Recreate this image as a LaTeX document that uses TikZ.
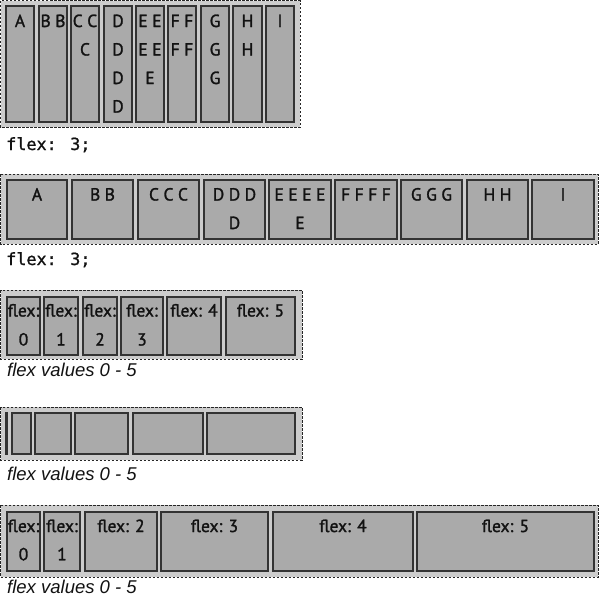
\documentclass[tikz,border=0pt]{standalone}
\usepackage{fontspec}
\setmainfont{PT Sans}
\newfontfamily\lblfont[FakeBold=1.5]{PT Sans}
\newfontfamily\capfont{Liberation Sans}
\newfontfamily\codefont[FakeBold=1]{DejaVu Sans Mono}
\newcommand\lsp{\kern4.5pt}
\tikzset{
  container/.style={draw=black!85, line width=0.9pt, dash pattern=on 2.5pt off 1.5pt, fill=gray!40},
  flexitem/.style={draw=black!80, line width=1.3pt, fill=gray!67},
  lbl/.style={inner sep=0pt, anchor=base, text=black!93, font=\lblfont\fontsize{17.5}{20}\selectfont},
  codetxt/.style={inner sep=0pt, anchor=base west, text=black!93, font=\codefont\fontsize{16.8}{20}\selectfont},
  captxt/.style={inner sep=0pt, anchor=base west, text=black!93, font=\capfont\itshape\fontsize{18.5}{22}\selectfont},
}
\newcommand\bx[4]{\draw[flexitem] (#1,#2) rectangle (#3,#4);}
% \lines{prefix}{xcenter}{first baseline}{step}{list}
\newcommand\lines[5]{%
  \foreach \t [count=\i] in {#5} {
    \node[lbl] (#1\i) at (#2, {#3+#4*(\i-1)}) {\t};
  }}
\begin{document}
\begin{tikzpicture}[x=1pt,y=-1pt]
\useasboundingbox (0,0) rectangle (600,598);
\fill[white] (0,0) rectangle (600,598);

% ---------- section 1 ----------
\draw[container] (0.5,0.5) rectangle (300,127);
\bx{6}{6}{34}{122}
\bx{39}{6}{67}{122}
\bx{71}{6}{99}{122}
\bx{104}{6}{132}{122}
\bx{136}{6}{164}{122}
\bx{168}{6}{196}{122}
\bx{201}{6}{229}{122}
\bx{233}{6}{262}{122}
\bx{266}{6}{294}{122}
\lines{a}{20}{27}{28.5}{A}
\lines{b}{53}{27}{28.5}{B\lsp B}
\lines{c}{85}{27}{28.5}{C\lsp C, C}
\lines{d}{118}{27}{28.5}{D, D, D, D}
\lines{e}{150}{27}{28.5}{E\lsp E, E\lsp E, E}
\lines{f}{182}{27}{28.5}{F\lsp F, F\lsp F}
\lines{g}{215}{27}{28.5}{G, G, G}
\lines{h}{247.5}{27}{28.5}{H, H}
\lines{i}{280}{27}{28.5}{I}
\node[codetxt] (code1) at (6,150) {flex: 3;};

% ---------- section 2 ----------
\draw[container] (0.5,174) rectangle (598,244);
\bx{7}{180}{67}{239}
\bx{72}{180}{133}{239}
\bx{138}{180}{199}{239}
\bx{204}{180}{265}{239}
\bx{269}{180}{331}{239}
\bx{335}{180}{397}{239}
\bx{401}{180}{462}{239}
\bx{467}{180}{528}{239}
\bx{532}{180}{594}{239}
\lines{ra}{37}{200.5}{28.5}{A}
\lines{rb}{102.5}{200.5}{28.5}{B\lsp B}
\lines{rc}{168.5}{200.5}{28.5}{C\lsp C\lsp C}
\lines{rd}{234.5}{200.5}{28.5}{D\lsp D\lsp D, D}
\lines{re}{300}{200.5}{28.5}{E\lsp E\lsp E\lsp E, E}
\lines{rf}{366}{200.5}{28.5}{F\lsp F\lsp F\lsp F}
\lines{rg}{431.5}{200.5}{28.5}{G\lsp G\lsp G}
\lines{rh}{497.5}{200.5}{28.5}{H\lsp H}
\lines{ri}{563}{200.5}{28.5}{I}
\node[codetxt] (code2) at (6,265) {flex: 3;};

% ---------- section 3 ----------
\draw[container] (0.5,290) rectangle (302,359);
\bx{7}{297}{40}{355}
\bx{44}{297}{78}{355}
\bx{83}{297}{117}{355}
\bx{121}{297}{163}{355}
\bx{167}{297}{221}{355}
\bx{226}{297}{295}{355}
\lines{p}{23.5}{316.5}{29}{flex:, 0}
\lines{q}{61}{316.5}{29}{flex:, 1}
\lines{r}{100}{316.5}{29}{flex:, 2}
\lines{s}{142}{316.5}{29}{flex:, 3}
\lines{u}{194}{316.5}{29}{flex: 4}
\lines{v}{260.5}{316.5}{29}{flex: 5}
\node[captxt] (cap3) at (7,376) {flex values 0 - 5};

% ---------- section 4 ----------
\draw[container] (0.5,407) rectangle (302,460);
\bx{6}{413}{7}{454}
\bx{12}{413}{31}{454}
\bx{35}{413}{71}{454}
\bx{75}{413}{128}{454}
\bx{133}{413}{203}{454}
\bx{207}{413}{295}{454}
\node[captxt] (cap4) at (7,480) {flex values 0 - 5};

% ---------- section 5 ----------
\draw[container] (0.5,505) rectangle (598,577);
\bx{7}{512}{40}{571}
\bx{44}{512}{80}{571}
\bx{85}{512}{157}{571}
\bx{161}{512}{268}{571}
\bx{273}{512}{413}{571}
\bx{417}{512}{594}{571}
\lines{w}{23.5}{532}{28.3}{flex:, 0}
\lines{x}{62}{532}{28.3}{flex:, 1}
\lines{y}{121}{532}{28.3}{flex: 2}
\lines{z}{214.5}{532}{28.3}{flex: 3}
\lines{k}{343}{532}{28.3}{flex: 4}
\lines{m}{505.5}{532}{28.3}{flex: 5}
\node[captxt] (cap5) at (7,593) {flex values 0 - 5};
\end{tikzpicture}
\end{document}
